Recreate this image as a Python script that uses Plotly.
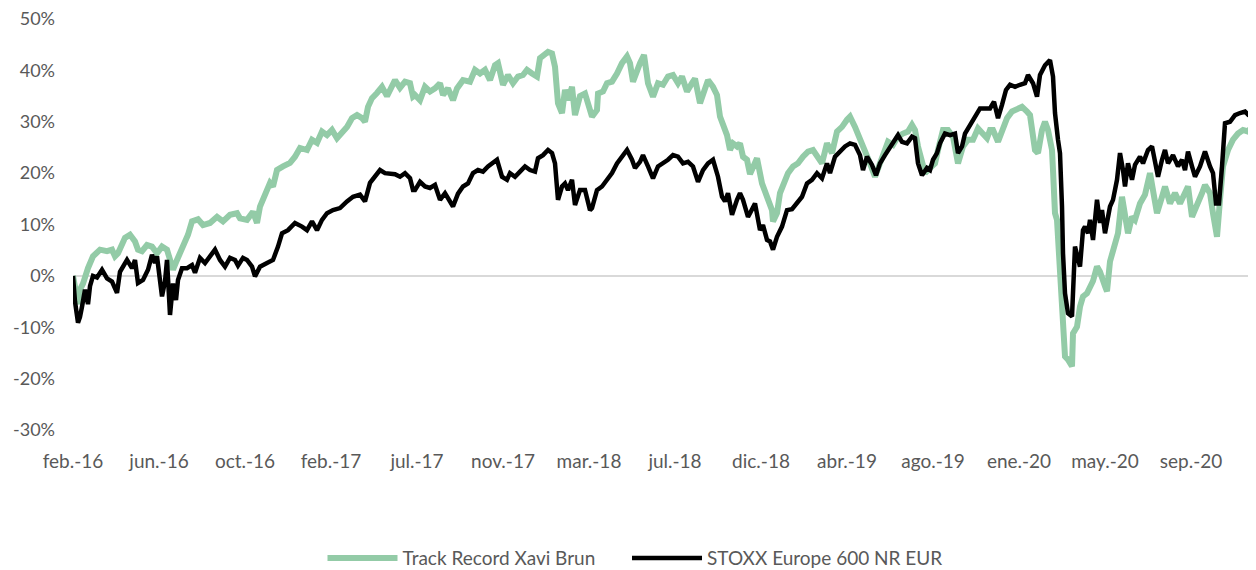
import plotly.graph_objects as go

# Trading-day index (days since start of track record) and cumulative return (%)
track_day = [0, 3, 5, 7, 10, 15, 20, 27, 34, 39, 42, 45, 52, 57, 62, 65, 69, 74, 79, 84, 89, 94, 97, 100, 104, 110, 115, 119, 125, 130, 137, 144, 150, 157, 164, 167, 174, 180, 184, 187, 192, 197, 200, 204, 210, 217, 222, 227, 234, 239, 244, 249, 254, 259, 264, 269, 274, 279, 284, 289, 292, 295, 299, 304, 309, 314, 319, 322, 327, 332, 337, 340, 342, 347, 352, 357, 362, 367, 370, 375, 380, 384, 390, 397, 402, 407, 412, 417, 422, 425, 430, 435, 440, 445, 450, 454, 459, 464, 467, 472, 475, 479, 482, 485, 489, 492, 495, 499, 502, 507, 512, 519, 524, 525, 530, 534, 539, 544, 549, 554, 557, 560, 564, 567, 571, 575, 580, 585, 590, 595, 600, 605, 609, 614, 619, 622, 627, 630, 635, 640, 644, 647, 650, 654, 657, 660, 664, 667, 670, 674, 677, 680, 684, 689, 694, 699, 700, 704, 707, 712, 715, 720, 725, 730, 735, 740, 745, 749, 754, 759, 764, 769, 774, 777, 782, 787, 792, 797, 802, 807, 812, 815, 820, 825, 830, 835, 839, 842, 845, 849, 852, 857, 862, 865, 870, 875, 880, 885, 890, 895, 900, 905, 910, 914, 917, 920, 925, 929, 934, 939, 944, 949, 954, 957, 962, 965, 969, 972, 975, 979, 980, 982, 984, 985, 987, 989, 990, 992, 995, 999, 1000, 1004, 1007, 1010, 1014, 1017, 1020, 1024, 1027, 1032, 1034, 1037, 1042, 1045, 1049, 1052, 1055, 1059, 1062, 1067, 1072, 1077, 1080, 1084, 1089, 1092, 1097, 1102, 1107, 1112, 1115, 1119, 1124, 1129, 1132, 1137, 1140, 1144, 1147, 1150, 1155, 1160, 1165, 1170, 1175, 1179, 1183]
track_ret = [0.0, -3.0, -5.5, -2.7, -1.5, 1.5, 3.8, 5.1, 4.8, 5.1, 3.8, 4.4, 7.4, 8.0, 6.7, 5.1, 4.8, 6.0, 5.7, 4.4, 5.7, 5.1, 2.5, 1.2, 3.1, 5.7, 8.0, 10.6, 11.0, 9.9, 10.3, 11.5, 10.6, 11.9, 12.2, 11.2, 10.9, 12.5, 10.3, 13.5, 16.1, 18.1, 17.4, 20.6, 21.3, 22.0, 23.2, 24.9, 24.5, 26.5, 25.9, 28.1, 27.4, 28.4, 26.8, 27.8, 29.0, 30.7, 31.3, 30.7, 30.0, 32.9, 34.6, 35.6, 36.8, 35.0, 37.2, 38.1, 36.6, 37.8, 37.5, 34.9, 35.2, 34.2, 36.8, 35.9, 36.5, 37.5, 35.2, 36.5, 34.2, 36.5, 38.1, 37.8, 40.1, 39.4, 40.1, 38.1, 41.0, 41.4, 37.2, 39.1, 37.5, 38.8, 39.1, 40.1, 39.4, 38.8, 42.4, 43.0, 43.6, 43.3, 40.7, 33.6, 31.7, 36.2, 34.2, 36.8, 31.3, 35.0, 35.5, 31.0, 32.3, 35.5, 35.9, 37.5, 37.8, 39.4, 41.4, 42.7, 41.4, 37.8, 40.4, 41.4, 43.0, 37.5, 34.9, 37.5, 37.2, 38.8, 39.1, 37.5, 38.8, 35.9, 37.5, 38.4, 33.6, 35.2, 38.1, 36.8, 35.2, 31.0, 29.7, 27.4, 24.5, 25.8, 25.2, 25.8, 23.2, 22.6, 19.8, 21.5, 22.9, 18.0, 15.4, 12.8, 10.6, 12.2, 16.1, 18.7, 20.0, 21.3, 21.9, 23.2, 24.2, 24.5, 23.2, 21.9, 25.8, 23.9, 28.1, 29.0, 30.4, 31.0, 29.0, 26.8, 23.9, 21.9, 19.3, 21.9, 23.9, 26.1, 25.5, 27.1, 27.7, 28.1, 29.4, 28.4, 25.2, 22.6, 20.0, 21.0, 21.9, 24.5, 28.4, 28.4, 27.1, 21.9, 25.2, 26.5, 26.5, 28.7, 27.7, 26.8, 28.4, 28.4, 26.1, 28.4, 30.7, 32.0, 32.3, 32.9, 32.0, 31.3, 24.5, 23.9, 28.4, 30.0, 28.4, 24.5, 20.6, 12.2, 10.9, 7.6, 0.5, -6.0, -12.5, -15.7, -16.3, -17.6, -11.2, -9.9, -6.0, -4.0, -3.4, -2.1, -1.0, 1.8, 0.8, -2.0, -3.0, 2.8, 5.7, 8.3, 15.4, 11.5, 8.3, 11.5, 10.9, 14.1, 15.8, 20.0, 16.1, 12.2, 15.4, 17.4, 14.1, 16.1, 14.1, 16.1, 17.4, 11.5, 13.5, 16.1, 17.7, 16.1, 12.2, 7.6, 14.8, 21.3, 24.5, 26.5, 27.7, 28.4, 28.1, 29.0, 30.0]

stoxx_day = [0, 2, 5, 7, 9, 12, 15, 17, 20, 24, 29, 34, 39, 44, 47, 54, 59, 62, 65, 70, 75, 79, 82, 84, 89, 92, 94, 97, 100, 103, 105, 109, 114, 119, 122, 127, 132, 137, 142, 147, 152, 157, 162, 165, 170, 174, 179, 182, 187, 194, 200, 205, 209, 215, 222, 229, 234, 239, 244, 249, 254, 260, 267, 274, 280, 287, 292, 297, 302, 307, 312, 317, 322, 327, 332, 337, 340, 342, 347, 352, 357, 362, 367, 372, 375, 380, 385, 390, 395, 400, 405, 410, 415, 420, 424, 429, 434, 437, 442, 447, 452, 457, 462, 465, 470, 475, 479, 482, 485, 489, 492, 495, 499, 502, 507, 512, 517, 519, 524, 529, 534, 539, 544, 549, 554, 559, 562, 567, 570, 575, 580, 585, 590, 595, 600, 605, 610, 615, 620, 625, 630, 635, 640, 645, 649, 652, 655, 659, 664, 667, 670, 675, 677, 682, 687, 690, 694, 697, 700, 704, 709, 714, 719, 724, 729, 734, 739, 744, 749, 754, 757, 762, 767, 772, 777, 782, 787, 790, 794, 799, 803, 807, 812, 815, 820, 825, 829, 834, 839, 842, 845, 849, 854, 857, 860, 864, 867, 872, 877, 882, 885, 889, 892, 897, 902, 907, 912, 917, 921, 925, 929, 933, 937, 942, 947, 952, 955, 960, 964, 967, 972, 977, 980, 982, 985, 987, 989, 990, 992, 995, 999, 1002, 1007, 1010, 1012, 1015, 1017, 1020, 1024, 1027, 1029, 1032, 1037, 1040, 1044, 1047, 1050, 1052, 1055, 1059, 1062, 1067, 1070, 1075, 1079, 1082, 1085, 1089, 1092, 1095, 1100, 1105, 1109, 1112, 1115, 1119, 1122, 1127, 1132, 1137, 1140, 1143, 1146, 1149, 1152, 1157, 1162, 1167, 1172, 1175, 1179, 1180, 1183]
stoxx_ret = [0.0, -5.0, -9.1, -8.0, -6.0, -2.7, -5.5, -2.0, 0.0, -0.3, 1.2, -0.5, -1.1, -3.3, 0.8, 3.1, 1.5, 3.1, -1.4, -0.8, 1.2, 4.1, 2.5, 3.8, -4.0, -1.1, 3.1, -7.6, -1.5, -4.7, -0.8, 1.5, 1.5, 2.1, 0.6, 3.5, 2.5, 3.8, 5.1, 3.1, 1.8, 3.5, 3.1, 2.0, 3.5, 3.1, 1.8, -0.1, 1.8, 2.5, 3.1, 5.7, 8.3, 8.9, 10.3, 9.6, 8.9, 10.6, 8.9, 10.9, 12.2, 12.8, 13.2, 14.5, 15.4, 15.8, 14.5, 18.1, 19.3, 20.6, 20.0, 20.0, 19.8, 19.3, 20.0, 19.0, 16.7, 16.7, 18.3, 17.4, 17.1, 17.7, 14.8, 16.1, 15.2, 13.5, 16.0, 17.4, 18.0, 20.0, 20.6, 20.3, 21.3, 21.9, 22.6, 19.3, 18.7, 20.0, 19.3, 20.3, 21.3, 20.6, 20.3, 22.9, 23.5, 24.5, 23.9, 21.9, 14.8, 17.4, 18.0, 16.7, 18.7, 13.8, 16.7, 16.7, 12.8, 13.2, 16.7, 17.4, 18.7, 20.0, 21.9, 23.2, 24.5, 22.6, 21.0, 22.2, 23.5, 21.3, 19.0, 21.3, 21.9, 22.6, 23.5, 23.2, 21.9, 22.2, 21.3, 18.3, 20.6, 21.9, 22.6, 19.3, 15.4, 14.5, 16.1, 11.9, 14.8, 16.1, 14.8, 11.5, 12.2, 14.1, 8.9, 9.9, 7.0, 6.7, 5.1, 7.6, 9.6, 12.8, 13.0, 14.1, 15.4, 18.0, 18.7, 20.0, 19.0, 21.9, 20.0, 23.2, 24.2, 25.2, 25.8, 25.5, 23.5, 20.6, 23.2, 21.6, 19.6, 21.9, 23.5, 24.5, 25.8, 27.4, 26.1, 25.8, 27.1, 26.8, 21.9, 19.6, 21.0, 20.6, 22.6, 23.9, 25.8, 27.7, 27.4, 27.7, 23.9, 25.2, 27.7, 29.4, 30.7, 32.6, 32.6, 32.6, 33.9, 30.7, 33.3, 36.2, 37.2, 36.8, 37.2, 37.5, 39.1, 37.5, 34.9, 39.1, 41.0, 42.0, 38.8, 31.7, 26.5, 23.9, 13.5, 4.4, -3.4, -7.3, -7.9, 5.7, 1.8, 8.9, 9.6, 8.3, 10.9, 7.0, 14.8, 10.3, 12.8, 8.3, 13.5, 14.8, 18.7, 23.9, 20.6, 17.4, 21.9, 18.7, 21.6, 23.2, 21.9, 24.5, 25.2, 21.9, 19.3, 22.6, 24.5, 21.9, 23.5, 21.3, 22.6, 20.6, 24.2, 21.3, 19.3, 21.3, 24.2, 21.3, 20.0, 14.1, 14.1, 21.3, 29.7, 30.0, 31.3, 31.7, 32.0, 31.4, 31.7, 29.0, 34.2]

tick_days = [0, 86, 172, 258, 344, 430, 516, 602, 688, 774, 860, 946, 1032, 1118]
tick_labels = ["feb.-16", "jun.-16", "oct.-16", "feb.-17", "jul.-17", "nov.-17", "mar.-18",
               "jul.-18", "dic.-18", "abr.-19", "ago.-19", "ene.-20", "may.-20", "sep.-20"]
y_ticks = [-30, -20, -10, 0, 10, 20, 30, 40, 50]
y_labels = [f"{v}%" for v in y_ticks]

GRAY = "#595959"
FONT = "Lato, 'Open Sans', sans-serif"

fig = go.Figure()
fig.add_trace(go.Scatter(x=track_day, y=track_ret, mode="lines",
                         name="Track Record Xavi Brun", legend="legend",
                         line=dict(color="#93CBA7", width=6)))
fig.add_trace(go.Scatter(x=stoxx_day, y=stoxx_ret, mode="lines",
                         name="STOXX Europe 600 NR EUR", legend="legend2",
                         line=dict(color="#000000", width=4.5)))

legend_common = dict(orientation="h", xref="container", yref="container",
                     xanchor="left", y=0.021, yanchor="middle",
                     font=dict(family=FONT, size=19, color=GRAY),
                     itemwidth=70, bgcolor="rgba(0,0,0,0)")

fig.update_layout(
    width=1248, height=562,
    margin=dict(l=65, r=0, t=11, b=140),
    paper_bgcolor="white", plot_bgcolor="white",
    font=dict(family=FONT, size=17, color=GRAY),
    showlegend=True,
    legend=dict(x=0.252, **legend_common),
    legend2=dict(x=0.496, **legend_common),
    xaxis=dict(range=[0, 1183], showgrid=False, zeroline=False, showline=False,
               tickmode="array", tickvals=tick_days, ticktext=tick_labels,
               ticks="", ticklabelstandoff=18, ticklabeloverflow="allow",
               tickfont=dict(family=FONT, size=19, color=GRAY)),
    yaxis=dict(range=[-30, 50], showgrid=False, zeroline=True,
               zerolinecolor="#D9D9D9", zerolinewidth=2,
               tickmode="array", tickvals=y_ticks, ticktext=y_labels,
               ticks="", ticklabelstandoff=17, ticklabeloverflow="allow",
               tickfont=dict(family=FONT, size=18, color=GRAY)),
)

fig.write_html("out.html")
